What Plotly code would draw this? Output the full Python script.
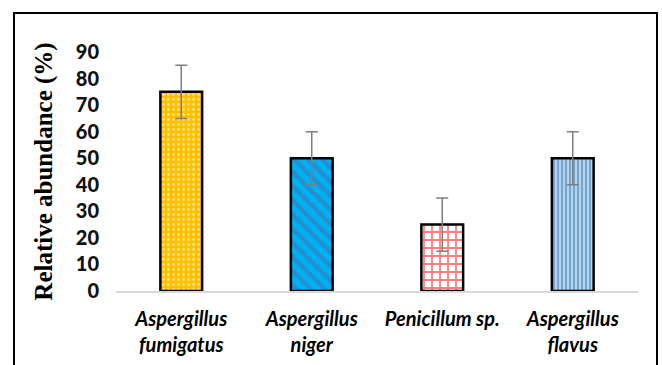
import plotly.graph_objects as go

categories = ["Aspergillus<br>fumigatus", "Aspergillus<br>niger", "Penicillum sp.", "Aspergillus<br>flavus"]
values = [75, 50, 25, 50]
errors = [10, 10, 10, 10]
y_ticks = [0, 10, 20, 30, 40, 50, 60, 70, 80, 90]

bg_colors = ["#FFC000", "#00B0F0", "#FFFFFF", "#BDD7EE"]
fg_colors = ["#FFFFFF", "#3F6FB5", "#FF0000", "#2E75B6"]
shapes_pat = [".", "\\", "+", "|"]
sizes = [5, 10, 8, 4]
solid = [0.25, 0.45, 0.4, 0.55]

fig = go.Figure()
for i in range(len(categories)):
    fig.add_trace(go.Bar(
        x=[categories[i]], y=[values[i]],
        width=0.32,
        marker=dict(
            color=bg_colors[i],
            line=dict(color="#000000", width=2.5),
            pattern=dict(shape=shapes_pat[i], fgcolor=fg_colors[i], bgcolor=bg_colors[i],
                         size=sizes[i], solidity=solid[i], fillmode="overlay"),
        ),
        error_y=dict(type="data", array=[errors[i]], color="#7F7F7F", thickness=1.5, width=6),
        showlegend=False,
    ))

fig.update_layout(
    width=662, height=365,
    margin=dict(l=116, r=24, t=52, b=74),
    paper_bgcolor="white", plot_bgcolor="white",
    xaxis=dict(
        showline=True, linecolor="#D9D9D9", linewidth=1.5, automargin=False,
        showgrid=False, ticks="", categoryorder="array", categoryarray=categories,
        tickfont=dict(family="Lato", size=20, color="#000000", weight="bold", style="italic"),
        ticklabelstandoff=9,
    ),
    yaxis=dict(
        range=[0, 90], tickvals=y_ticks, showgrid=False, showline=False, zeroline=False,
        ticks="", ticklabelstandoff=16, automargin=False,
        tickfont=dict(family="Lato", size=20, color="#111111", weight=900),
        title=dict(text="Relative abundance (%)", standoff=16,
                   font=dict(family="Liberation Serif", size=25, color="#000000", weight="bold")),
    ),
    shapes=[dict(type="rect", xref="paper", yref="paper",
                 x0=(14 - 116) / 522, x1=(657 - 116) / 522,
                 y0=-0.5, y1=(291 - 13) / 239,
                 line=dict(color="#000000", width=2), fillcolor="rgba(0,0,0,0)", layer="below")],
)

fig.write_html("out.html", config={"displayModeBar": False},
               post_script="document.body.style.margin='0';document.body.style.overflow='hidden';")
